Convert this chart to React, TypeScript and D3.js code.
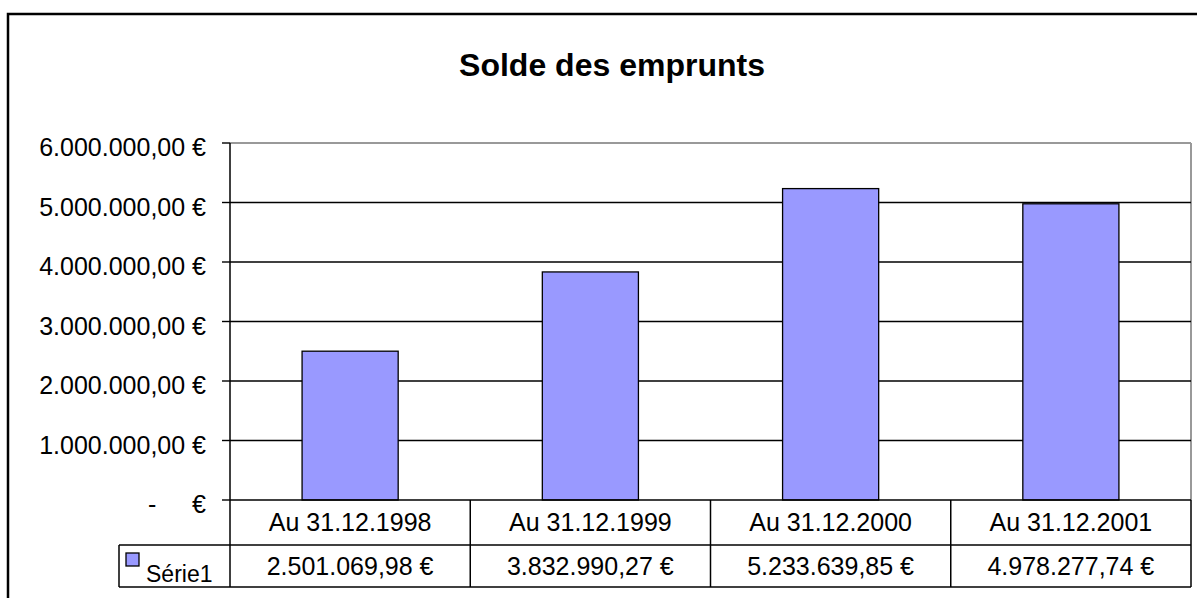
import { useMemo } from "react";
import * as d3 from "d3";

const categories = ["Au 31.12.1998", "Au 31.12.1999", "Au 31.12.2000", "Au 31.12.2001"];
const values = [2501069.98, 3832990.27, 5233639.85, 4978277.74];
const seriesName = "Série1";
const yTicks = [0, 1000000, 2000000, 3000000, 4000000, 5000000, 6000000];

const W = 1197;
const H = 598;
const FONT = "'Liberation Sans', Arial, sans-serif";
const BAR = "#9999FF";
const LABEL_SIZE = 25;

// French-style accounting format: 1.234,56 €
const locale = d3.formatLocale({
  decimal: ",",
  thousands: ".",
  grouping: [3],
  currency: ["", " €"],
});
const fmt = locale.format("$,.2f");

export default function App() {
  const plot = { left: 230, right: 1191, top: 143, bottom: 500 };
  const rowH1 = 45;
  const rowH2 = 42;
  const legendLeft = 119;

  const x = useMemo(
    () =>
      d3
        .scaleBand<string>()
        .domain(categories)
        .range([plot.left, plot.right])
        .paddingInner(0.6)
        .paddingOuter(0.3),
    []
  );
  const y = useMemo(() => d3.scaleLinear().domain([0, 6000000]).range([plot.bottom, plot.top]), []);

  const step = x.step();
  const colEdges = categories.map((_, i) => plot.left + i * step);
  const tableBottom = plot.bottom + rowH1 + rowH2;

  return (
    <svg
      width={W}
      height={H}
      style={{ position: "fixed", left: 0, top: 0, background: "#fff" }}
      fontFamily={FONT}
    >
      {/* outer chart frame */}
      <rect x={8} y={14} width={W + 20} height={H + 20} fill="#fff" stroke="#000" strokeWidth={2.5} />

      <text x={612} y={76} textAnchor="middle" fontSize={32} fontWeight="bold" fill="#000">
        Solde des emprunts
      </text>

      {/* plot area border (gray) */}
      <line x1={plot.left} x2={plot.right} y1={plot.top} y2={plot.top} stroke="#999" strokeWidth={2} />
      <line x1={plot.right} x2={plot.right} y1={plot.top} y2={plot.bottom} stroke="#999" strokeWidth={2} />

      {/* gridlines */}
      {yTicks.slice(1, -1).map((t) => (
        <line key={t} x1={plot.left} x2={plot.right} y1={y(t)} y2={y(t)} stroke="#000" strokeWidth={1.4} />
      ))}

      {/* bars */}
      {values.map((v, i) => (
        <rect
          key={categories[i]}
          x={x(categories[i])}
          y={y(v)}
          width={x.bandwidth()}
          height={y(0) - y(v)}
          fill={BAR}
          stroke="#000"
          strokeWidth={1.3}
        />
      ))}

      {/* y axis */}
      <line x1={plot.left} x2={plot.left} y1={plot.top} y2={tableBottom} stroke="#000" strokeWidth={1.5} />
      {yTicks.map((t) => (
        <g key={t}>
          <line x1={plot.left - 8} x2={plot.left} y1={y(t)} y2={y(t)} stroke="#000" strokeWidth={1.4} />
          {t === 0 ? (
            <>
              <text x={148} y={y(t) + 13} fontSize={LABEL_SIZE} fill="#000">-</text>
              <text x={206} y={y(t) + 13} textAnchor="end" fontSize={LABEL_SIZE} fill="#000">€</text>
            </>
          ) : (
            <text x={206} y={y(t) + 13} textAnchor="end" fontSize={LABEL_SIZE} fill="#000">
              {fmt(t)}
            </text>
          )}
        </g>
      ))}

      {/* data table */}
      <g stroke="#000" strokeWidth={1.5} fill="none">
        <line x1={plot.left} x2={plot.right} y1={plot.bottom} y2={plot.bottom} />
        <line x1={legendLeft} x2={plot.right} y1={plot.bottom + rowH1} y2={plot.bottom + rowH1} />
        <line x1={legendLeft} x2={plot.right} y1={tableBottom} y2={tableBottom} />
        <line x1={legendLeft} x2={legendLeft} y1={plot.bottom + rowH1} y2={tableBottom} />
        {colEdges.slice(1).map((cx) => (
          <line key={cx} x1={cx} x2={cx} y1={plot.bottom} y2={tableBottom} />
        ))}
        <line x1={plot.right} x2={plot.right} y1={plot.bottom} y2={tableBottom} />
      </g>
      {categories.map((c, i) => (
        <g key={c}>
          <text x={colEdges[i] + step / 2} y={531} textAnchor="middle" fontSize={LABEL_SIZE} fill="#000">
            {c}
          </text>
          <text x={colEdges[i] + step / 2} y={575} textAnchor="middle" fontSize={LABEL_SIZE} fill="#000">
            {fmt(values[i])}
          </text>
        </g>
      ))}

      {/* legend key */}
      <rect x={126} y={553} width={13} height={13} fill={BAR} stroke="#000" strokeWidth={1.3} />
      <text x={146} y={582} fontSize={23} fill="#000">{seriesName}</text>
    </svg>
  );
}
